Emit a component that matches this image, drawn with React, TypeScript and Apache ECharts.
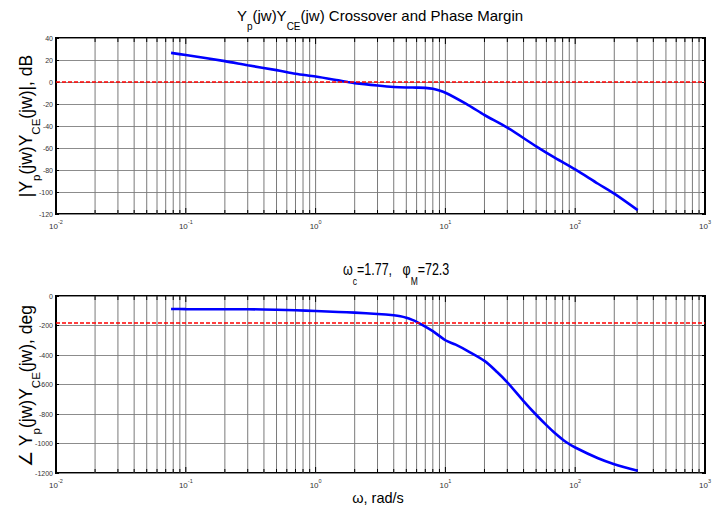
import React, { useEffect, useRef } from 'react';
import * as echarts from 'echarts';

// ---- data ----
const magFreq = [0.077, 0.1, 0.2, 0.3, 0.5, 0.7, 1, 1.5, 1.77, 2, 3, 4, 5, 6, 7, 8, 10, 15, 20, 30, 50, 70, 100, 150, 200, 303];
const magDb = [26.5, 24.5, 19, 15.2, 10.8, 7.5, 5, 1.5, 0, -1, -3.2, -4.5, -5, -5.1, -5.3, -6.2, -9.8, -21, -30, -41.5, -58.5, -69, -79.5, -92.5, -101.5, -116.5];

const phaseFreq = [0.077, 0.1, 0.2, 0.3, 0.5, 0.7, 1, 1.5, 2, 3, 4, 4.5, 5, 5.5, 6, 7, 8, 10, 12, 15, 20, 25, 30, 40, 50, 60, 70, 85, 100, 150, 200, 303];
const phaseDeg = [-88, -89, -90, -90, -93, -97, -102, -108, -113, -122, -131, -137, -147, -160, -175, -207, -238, -300, -330, -375, -440, -515, -585, -712, -805, -875, -930, -990, -1027, -1100, -1140, -1185];

const magRef = 0; // dB crossover line
const phaseRef = -180; // deg

// log grid positions (minor + inner decades)
const logGridFreqs = [
  0.02, 0.03, 0.04, 0.05, 0.06, 0.07, 0.08, 0.09, 0.1,
  0.2, 0.3, 0.4, 0.5, 0.6, 0.7, 0.8, 0.9, 1,
  2, 3, 4, 5, 6, 7, 8, 9, 10,
  20, 30, 40, 50, 60, 70, 80, 90, 100,
  200, 300, 400, 500, 600, 700, 800, 900,
];
const decadeExponents = ['-2', '-1', '0', '1', '2', '3'];

const magAxis = { min: -120, max: 40, interval: 20 };
const phaseAxis = { min: -1200, max: 0, interval: 200 };

const FONT = '"Liberation Sans", Arial, Helvetica, sans-serif';

export default function App() {
  const ref = useRef<HTMLDivElement>(null);

  useEffect(() => {
    if (!ref.current) return;
    const chart = echarts.init(ref.current, undefined, { renderer: 'svg' });

    const xLabel = {
      fontFamily: FONT,
      color: '#333',
      margin: 5,
      formatter: (v: number) => {
        const e = Math.round(Math.log10(v));
        const idx = e + 2;
        return `{b|10}{s|${decadeExponents[idx] ?? e}}`;
      },
      rich: {
        b: { fontSize: 8, lineHeight: 11, verticalAlign: 'bottom', fontFamily: FONT, color: '#333' },
        s: { fontSize: 5.5, lineHeight: 6, verticalAlign: 'top', fontFamily: FONT, color: '#333' },
      },
    };

    const makeX = (gridIndex: number) => ({
      type: 'log',
      logBase: 10,
      gridIndex,
      min: 0.01,
      max: 1000,
      axisLine: { show: false },
      axisTick: { show: false },
      splitLine: { show: false },
      axisLabel: xLabel,
    });

    const makeY = (gridIndex: number, ax: any, position: 'left' | 'right') => ({
      type: 'value',
      gridIndex,
      position,
      min: ax.min,
      max: ax.max,
      interval: ax.interval,
      axisLine: { show: false },
      axisTick: { show: true, inside: true, length: 3, lineStyle: { color: '#000', width: 1 } },
      splitLine: position === 'left' ? { show: true, lineStyle: { color: '#8c8c8c', width: 1 } } : { show: false },
      axisLabel: position === 'left'
        ? { show: true, fontSize: 7, color: '#333', fontFamily: FONT, margin: 3, formatter: (v: number) => String(v) }
        : { show: false },
    });

    const gridRender = (params: any, api: any) => {
      const v = api.value(0);
      const x = api.coord([v, api.value(1)])[0];
      const cs = params.coordSys;
      const isDecade = Math.abs(Math.log10(v) - Math.round(Math.log10(v))) < 1e-6;
      const stub = isDecade ? 6 : 4;
      return {
        type: 'group',
        children: [
          { type: 'line', shape: { x1: x, y1: cs.y, x2: x, y2: cs.y + cs.height }, style: { stroke: '#7a7a7a', lineWidth: 1 } },
          { type: 'line', shape: { x1: x, y1: cs.y, x2: x, y2: cs.y + stub }, style: { stroke: '#000', lineWidth: 1 } },
          { type: 'line', shape: { x1: x, y1: cs.y + cs.height - stub, x2: x, y2: cs.y + cs.height }, style: { stroke: '#000', lineWidth: 1 } },
        ],
      };
    };

    const refLine = (val: number) => ({
      silent: true,
      symbol: 'none',
      label: { show: false },
      lineStyle: { color: '#ff0000', type: [4, 2], width: 1.5 },
      data: [{ yAxis: val }],
    });

    const option: any = {
      animation: false,
      backgroundColor: '#fff',
      grid: [
        { left: 56, top: 38, width: 649, height: 176, show: true, borderColor: '#000', borderWidth: 2, backgroundColor: 'transparent' },
        { left: 56, top: 296, width: 649, height: 177, show: true, borderColor: '#000', borderWidth: 2, backgroundColor: 'transparent' },
      ],
      xAxis: [makeX(0), makeX(1)],
      yAxis: [
        makeY(0, magAxis, 'left'),
        makeY(0, magAxis, 'right'),
        makeY(1, phaseAxis, 'left'),
        makeY(1, phaseAxis, 'right'),
      ],
      series: [
        {
          type: 'custom',
          xAxisIndex: 0,
          yAxisIndex: 0,
          silent: true,
          z: 1,
          renderItem: gridRender,
          data: logGridFreqs.map((f) => [f, 0]),
        },
        {
          type: 'custom',
          xAxisIndex: 1,
          yAxisIndex: 2,
          silent: true,
          z: 1,
          renderItem: gridRender,
          data: logGridFreqs.map((f) => [f, -600]),
        },
        {
          type: 'line',
          xAxisIndex: 0,
          yAxisIndex: 0,
          z: 3,
          symbol: 'none',
          smooth: 0.3,
          lineStyle: { color: '#0000ff', width: 2.6 },
          data: magFreq.map((f, i) => [f, magDb[i]]),
          markLine: refLine(magRef),
        },
        {
          type: 'line',
          xAxisIndex: 1,
          yAxisIndex: 2,
          z: 3,
          symbol: 'none',
          smooth: 0.3,
          lineStyle: { color: '#0000ff', width: 2.6 },
          data: phaseFreq.map((f, i) => [f, phaseDeg[i]]),
          markLine: refLine(phaseRef),
        },
      ],
      graphic: [
        {
          type: 'text',
          x: 380,
          y: 8,
          style: {
            text: '{m|Y}{s|p}{m|(jw)Y}{s|CE}{m|(jw) Crossover and Phase Margin}',
            align: 'center',
            verticalAlign: 'top',
            rich: {
              m: { fontSize: 15, lineHeight: 16, verticalAlign: 'top', fontFamily: FONT, fill: '#000' },
              s: { fontSize: 10, lineHeight: 23.5, verticalAlign: 'bottom', fontFamily: FONT, fill: '#000' },
            },
          },
        },
        {
          type: 'text',
          x: 16.8,
          y: 126,
          rotation: Math.PI / 2,
          style: {
            text: '{m||Y}{s|p}{m|(jw)Y}{s|CE}{m|(jw)|, dB}',
            align: 'center',
            verticalAlign: 'top',
            rich: {
              m: { fontSize: 17.5, lineHeight: 18, verticalAlign: 'top', fontFamily: FONT, fill: '#000' },
              s: { fontSize: 11.5, lineHeight: 25, verticalAlign: 'bottom', fontFamily: FONT, fill: '#000' },
            },
          },
        },
        {
          type: 'text',
          x: 16.8,
          y: 386,
          rotation: Math.PI / 2,
          style: {
            text: '{m|\u2220 Y}{s|p}{m|(jw)Y}{s|CE}{m|(jw), deg}',
            align: 'center',
            verticalAlign: 'top',
            rich: {
              m: { fontSize: 17.5, lineHeight: 18, verticalAlign: 'top', fontFamily: FONT, fill: '#000' },
              s: { fontSize: 11.5, lineHeight: 25, verticalAlign: 'bottom', fontFamily: FONT, fill: '#000' },
            },
          },
        },
        {
          type: 'text',
          x: 343,
          y: 261,
          scaleY: 1.25,
          style: {
            text: '{m|\u03c9}{s|c}{m|=1.77,   \u03c6}{s|M}{m|=72.3}',
            align: 'left',
            verticalAlign: 'top',
            rich: {
              m: { fontSize: 12.5, lineHeight: 14, verticalAlign: 'top', fontFamily: FONT, fill: '#000' },
              s: { fontSize: 8.5, lineHeight: 20.5, verticalAlign: 'bottom', fontFamily: FONT, fill: '#000' },
            },
          },
        },
        {
          type: 'text',
          x: 378,
          y: 498,
          style: {
            text: '\u03c9, rad/s',
            align: 'center',
            verticalAlign: 'middle',
            fontSize: 14.5,
            fontFamily: FONT,
            fill: '#000',
          },
        },
      ],
    };

    chart.setOption(option);
    return () => chart.dispose();
  }, []);

  return (
    <div
      ref={ref}
      style={{ position: 'absolute', left: 0, top: 0, width: 724, height: 511, background: '#fff' }}
    />
  );
}
